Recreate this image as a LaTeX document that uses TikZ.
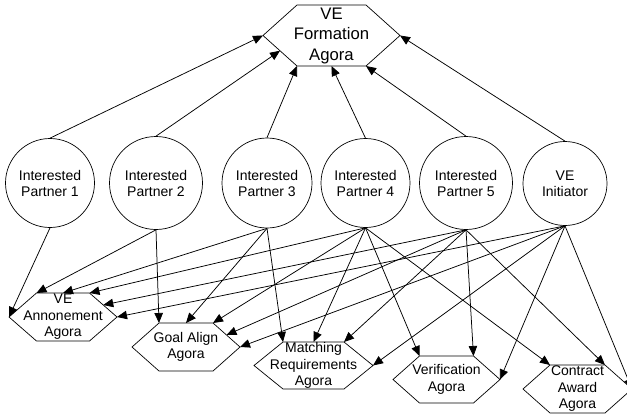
\documentclass[tikz,border=0pt]{standalone}
\usepackage{fontspec}
\setmainfont{Liberation Sans}
\usetikzlibrary{arrows.meta}

\tikzset{
  partner/.style={circle, draw, line width=0.7pt, inner sep=0pt, align=center,
    font=\fontsize{14}{16}\selectfont},
  hexline/.style={draw, line width=0.7pt, line join=miter},
  agoratext/.style={inner sep=0pt, align=center, font=\fontsize{14}{16.5}\selectfont},
  maintext/.style={inner sep=0pt, align=center, font=\fontsize{16.7}{20.5}\selectfont},
  flow/.style={line width=0.75pt, -{Triangle[length=10pt,width=8.5pt]}},
}

% Hexagonal agora: name, centre x, centre y, half width, half height,
% horizontal slant, text style, label.  Named points on the outline:
% l/r vertices, tl/tm/tr top edge, br/bm/bl bottom edge, rm/lm slanted edges.
\newcommand\agorahex[8]{%
  \coordinate (#1-l)  at ({#2-#4},{#3});
  \coordinate (#1-tl) at ({#2-#4+#6},{#3-#5});
  \coordinate (#1-tm) at ({#2},{#3-#5});
  \coordinate (#1-tr) at ({#2+#4-#6},{#3-#5});
  \coordinate (#1-rm) at ({#2+#4-#6/2},{#3-#5/2});
  \coordinate (#1-r)  at ({#2+#4},{#3});
  \coordinate (#1-br) at ({#2+#4-#6},{#3+#5});
  \coordinate (#1-bm) at ({#2},{#3+#5});
  \coordinate (#1-bl) at ({#2-#4+#6},{#3+#5});
  \coordinate (#1-lm) at ({#2-#4+#6/2},{#3+#5/2});
  \draw[hexline] (#1-l) -- (#1-tl) -- (#1-tr) -- (#1-r) -- (#1-br) -- (#1-bl) -- cycle;
  \node[#7] (#1) at (#2,#3) {#8};
}

\begin{document}
\begin{tikzpicture}[x=1pt,y=-1pt]
\clip (0,0) rectangle (627,415);

% formation agora
\agorahex{form}{331.5}{35.5}{68.5}{30.5}{34}{maintext}{VE\\Formation\\Agora}

% partners
\node[partner, minimum size=89pt] (p1) at (50,183)    {Interested\\Partner 1};
\node[partner, minimum size=93pt] (p2) at (156,183)   {Interested\\Partner 2};
\node[partner, minimum size=90pt] (p3) at (267,183)   {Interested\\Partner 3};
\node[partner, minimum size=89pt] (p4) at (365.5,183) {Interested\\Partner 4};
\node[partner, minimum size=93pt] (p5) at (466,183)   {Interested\\Partner 5};
\node[partner, minimum size=84pt] (ve) at (565,183.5) {VE\\Initiator};

% lower agoras
\agorahex{ann}{63}{317}{54}{24}{27.5}{agoratext}{VE\\Annonement\\Agora}
\agorahex{goal}{186}{347}{54}{24}{27}{agoratext}{Goal Align\\Agora}
\agorahex{match}{313.5}{365.5}{59.5}{23.5}{29}{agoratext}{Matching\\Requirements\\Agora}
\agorahex{ver}{446.5}{379.5}{53.5}{23.5}{26.5}{agoratext}{Verification\\Agora}
\agorahex{con}{577.5}{389}{54.5}{24}{27}{agoratext}{Contract\\Award\\Agora}

% into the formation agora
\draw[flow] (p1.north) -- (form-l);
\draw[flow] (p2.north) -- (form-lm);
\draw[flow] (p3.north) -- (form-bl);
\draw[flow] (p4.north) -- (form-bm);
\draw[flow] (p5.north) -- (form-br);
\draw[flow] (ve.north) -- (form-r);

% into the lower agoras
\draw[flow] (p1.south) -- (ann-l);

\draw[flow] (p2.south) -- (ann-tl);
\draw[flow] (p2.south) -- (goal-tl);

\draw[flow] (p3.south) -- (ann-tm);
\draw[flow] (p3.south) -- (goal-tm);
\draw[flow] (p3.south) -- (match-tl);

\draw[flow] (p4.south) -- (ann-tr);
\draw[flow] (p4.south) -- (goal-tr);
\draw[flow] (p4.south) -- (match-tm);
\draw[flow] (p4.south) -- (ver-tl);
\draw[flow] (p4.south) -- (con-tl);

\draw[flow] (p5.south) -- (ann-rm);
\draw[flow] (p5.south) -- (goal-rm);
\draw[flow] (p5.south) -- (match-tr);
\draw[flow] (p5.south) -- (ver-tr);
\draw[flow] (p5.south) -- (con-tr);

\draw[flow] (ve.south) -- (ann-r);
\draw[flow] (ve.south) -- (goal-r);
\draw[flow] (ve.south) -- (match-r);
\draw[flow] (ve.south) -- (ver-r);
\draw[flow] (ve.south) -- (con-r);
\end{tikzpicture}
\end{document}
